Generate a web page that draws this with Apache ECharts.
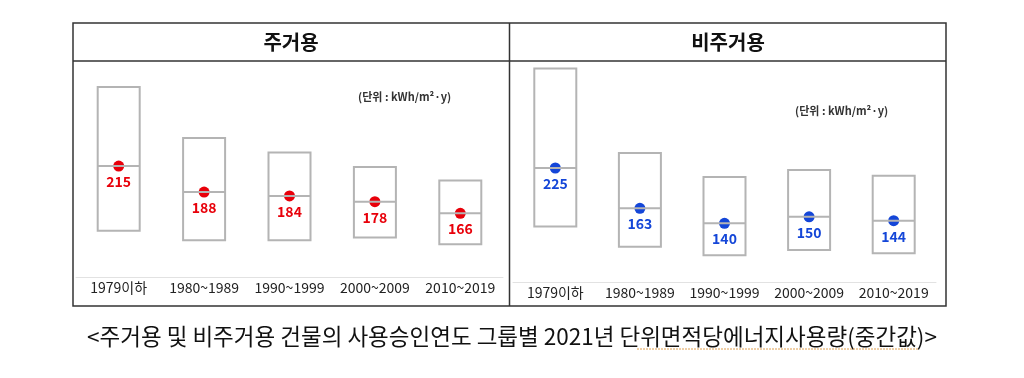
<!DOCTYPE html>
<html>
<head>
<meta charset="utf-8">
<script src="https://cdn.jsdelivr.net/npm/echarts@6/dist/echarts.min.js"></script>
<style>
  html, body { margin: 0; padding: 0; background: #fff; }
  #chart { width: 1024px; height: 378px; }
</style>
</head>
<body>
<div id="chart"></div>
<script>
// 사용승인연도 그룹
var categories = ['1979이하', '1980~1989', '1990~1999', '2000~2009', '2010~2019']

// 주거용 (kWh/m2·y)
var resQ1 = [148, 138, 138, 141, 134]
var resMedian = [215, 188, 184, 178, 166]
var resQ3 = [297, 244, 229, 214, 200]

// 비주거용 (kWh/m2·y)
var nonResQ1 = [135, 104, 91, 99, 94]
var nonResMedian = [225, 163, 140, 150, 144]
var nonResQ3 = [378, 248, 211, 222, 213]

var FONT = '"Noto Sans CJK KR", "Noto Sans", sans-serif'

function boxData(q1, med, q3) {
  return categories.map(function(c, i) {
    return [q1[i], q1[i], med[i], q3[i], q3[i]]
  })
}

function xAxisFor(idx) {
  return {
    type: 'category',
    gridIndex: idx,
    data: categories,
    axisTick: { show: false },
    axisLine: { lineStyle: { color: '#e2e2e2', width: 1 } },
    axisLabel: { interval: 0, color: '#222', fontSize: 14, fontFamily: FONT, margin: 4 }
  }
}

function yAxisFor(idx, min, max) {
  return {
    type: 'value',
    gridIndex: idx,
    min: min,
    max: max,
    show: false,
    splitLine: { show: false }
  }
}

function dotSeries(idx, med, color) {
  return {
    type: 'scatter',
    xAxisIndex: idx,
    yAxisIndex: idx,
    data: med,
    symbolSize: 11,
    itemStyle: { color: color, opacity: 1 },
    label: {
      show: true,
      position: 'bottom',
      distance: 3,
      color: color,
      fontSize: 14,
      fontWeight: 'bold',
      fontFamily: FONT
    },
    z: 2
  }
}

function boxSeries(idx, q1, med, q3) {
  return {
    type: 'boxplot',
    xAxisIndex: idx,
    yAxisIndex: idx,
    data: boxData(q1, med, q3),
    boxWidth: [42, 42],
    itemStyle: { color: 'rgba(0,0,0,0)', borderColor: '#b4b4b4', borderWidth: 2 },
    z: 3
  }
}

var chart = echarts.init(document.getElementById('chart'))
chart.setOption({
  animation: false,
  backgroundColor: '#fff',
  grid: [
    { left: 76, top: 64.7, width: 427, height: 212.3 },
    { left: 513, top: 60.6, width: 423, height: 221.3 }
  ],
  xAxis: [xAxisFor(0), xAxisFor(1)],
  yAxis: [yAxisFor(0, 100, 320), yAxisFor(1, 50, 390)],
  series: [
    dotSeries(0, resMedian, '#e8000a'),
    boxSeries(0, resQ1, resMedian, resQ3),
    dotSeries(1, nonResMedian, '#1446d8'),
    boxSeries(1, nonResQ1, nonResMedian, nonResQ3)
  ],
  graphic: [
    { type: 'rect', shape: { x: 73, y: 23, width: 873, height: 283 },
      style: { fill: 'none', stroke: '#333', lineWidth: 1.5 } },
    { type: 'line', shape: { x1: 73, y1: 61, x2: 946, y2: 61 },
      style: { stroke: '#333', lineWidth: 1.5 } },
    { type: 'line', shape: { x1: 509.5, y1: 23, x2: 509.5, y2: 306 },
      style: { stroke: '#333', lineWidth: 1.5 } },
    { type: 'text', x: 291, y: 42,
      style: { text: '주거용', fontSize: 20, fontWeight: 'bold', fontFamily: FONT,
        fill: '#111', textAlign: 'center', textVerticalAlign: 'middle' } },
    { type: 'text', x: 728, y: 42,
      style: { text: '비주거용', fontSize: 20, fontWeight: 'bold', fontFamily: FONT,
        fill: '#111', textAlign: 'center', textVerticalAlign: 'middle' } },
    { type: 'text', x: 358, y: 97,
      style: { text: '(단위 : kWh/m²·y)', fontSize: 11, fontWeight: 'bold', fontFamily: FONT,
        fill: '#333', textAlign: 'left', textVerticalAlign: 'middle' } },
    { type: 'text', x: 795, y: 111,
      style: { text: '(단위 : kWh/m²·y)', fontSize: 11, fontWeight: 'bold', fontFamily: FONT,
        fill: '#333', textAlign: 'left', textVerticalAlign: 'middle' } },
    { type: 'text', x: 512, y: 336,
      style: { text: '<주거용 및 비주거용 건물의 사용승인연도 그룹별 2021년 단위면적당에너지사용량(중간값)>',
        fontSize: 22.5, fontFamily: FONT, fill: '#111',
        textAlign: 'center', textVerticalAlign: 'middle' } },
    { type: 'line', shape: { x1: 637, y1: 349, x2: 918, y2: 349 },
      style: { stroke: '#e0a050', lineWidth: 1, lineDash: [2, 1] } }
  ]
})
</script>
</body>
</html>
